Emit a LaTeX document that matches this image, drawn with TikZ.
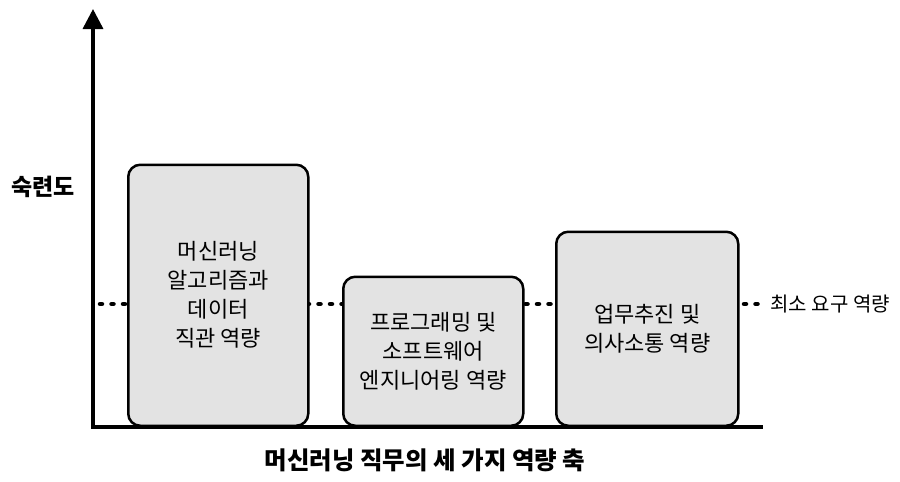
\documentclass[tikz,border=0pt]{standalone}
\usepackage{fontspec}
\setmainfont{Noto Sans CJK KR}
\usetikzlibrary{arrows.meta}

\tikzset{
    axis/.style={line width=3.5pt, -{Triangle[width=20pt, length=20pt]}},
    skillbox/.style={draw, line width=2.5pt, fill=black!11, rounded corners=12pt,
        anchor=south west, align=center, font=\fontsize{22}{29}\selectfont},
    dotline/.style={line width=4.5pt, line cap=round, dash pattern=on 2pt off 9.5pt},
}

\begin{document}
\begin{tikzpicture}[x=1pt, y=-1pt]
            \useasboundingbox (0, 0) rectangle (900, 482);

            % minimum level, drawn behind the boxes
            \coordinate (lvl) at (100, 304);
            \node[anchor=west, font=\fontsize{20}{22}\selectfont] (minlabel) at (767, 304) {최소 요구 역량};
            \draw[dotline, shorten >=4pt] (lvl) -- (minlabel.west);

            % the three skill boxes
            \node[skillbox, minimum width=180pt, minimum height=261pt] (algo) at (127, 427)
                {머신러닝\\알고리즘과\\데이터\\직관 역량};
            \node[skillbox, minimum width=180pt, minimum height=149pt] (prog) at (342, 427)
                {프로그래밍 및\\소프트웨어\\엔지니어링 역량};
            \node[skillbox, minimum width=182pt, minimum height=194pt] (comm) at (555, 427)
                {업무추진 및\\의사소통 역량};

            % axes
            \coordinate (origin) at (93, 427);
            \coordinate (ytop) at (93, 9);
            \coordinate (xend) at (763, 427);
            \draw[axis] (origin) -- (ytop);
            \draw[line width=3.5pt] (91.25, 427) -- (xend);

            \node[font=\fontsize{23}{25}\selectfont\bfseries] (ylabel) at (43, 187) {숙련도};
            \node[font=\fontsize{24.5}{26}\selectfont\bfseries] (xlabel) at (425, 460) {머신러닝 직무의 세 가지 역량 축};
        \end{tikzpicture}
\end{document}
